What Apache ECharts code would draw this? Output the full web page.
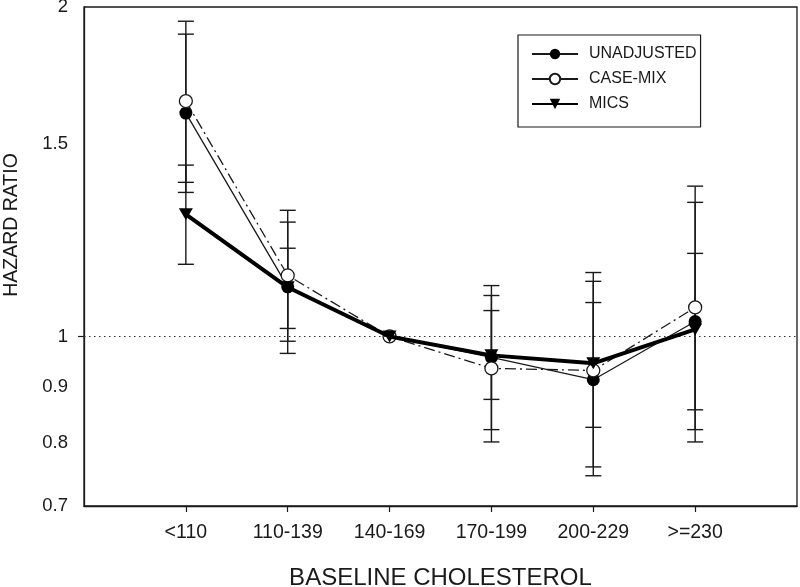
<!DOCTYPE html>
<html>
<head>
<meta charset="utf-8">
<script src="https://cdn.jsdelivr.net/npm/echarts@6/dist/echarts.min.js"></script>
<style>
html,body{margin:0;padding:0;background:#fff;}
#chart{width:800px;height:587px;}
</style>
</head>
<body>
<div id="chart"></div>
<script>
const categories = ['<110', '110-139', '140-169', '170-199', '200-229', '>=230'];
const yTicks = [0.7, 0.8, 0.9, 1, 1.5, 2];

const unadjusted     = [1.60, 1.11, 1.00, 0.957, 0.913, 1.032];
const unadjustedLow  = [1.354, 0.965, null, 0.822, 0.746, 0.801];
const unadjustedHigh = [1.889, 1.272, null, 1.113, 1.123, 1.326];

const caseMix     = [1.641, 1.137, 1.00, 0.935, 0.931, 1.063];
const caseMixLow  = [1.383, 0.990, null, 0.801, 0.760, 0.822];
const caseMixHigh = [1.941, 1.304, null, 1.090, 1.144, 1.372];

const mics     = [1.293, 1.109, 1.00, 0.961, 0.945, 1.015];
const micsLow  = [1.164, 1.017, null, 0.876, 0.826, 0.857];
const micsHigh = [1.434, 1.204, null, 1.056, 1.074, 1.191];

const FONT = '"Liberation Sans", Arial, sans-serif';
const INK = '#1a1a1a';

function points(vals) { return vals.map((v, i) => [i + 1, v]); }
function bars(lo, hi) {
  const out = [];
  lo.forEach((l, i) => { if (l != null && hi[i] != null) out.push([i + 1, l, hi[i]]); });
  return out;
}
function errorBarSeries(name, lo, hi) {
  return {
    type: 'custom',
    name: name + ' CI',
    data: bars(lo, hi),
    silent: true,
    z: 1,
    renderItem: function (params, api) {
      const x = api.value(0);
      const pLo = api.coord([x, api.value(1)]);
      const pHi = api.coord([x, api.value(2)]);
      const w = 8;
      const st = { stroke: INK, lineWidth: 1.4 };
      return {
        type: 'group',
        children: [
          { type: 'line', shape: { x1: pLo[0], y1: pLo[1], x2: pHi[0], y2: pHi[1] }, style: st },
          { type: 'line', shape: { x1: pLo[0] - w, y1: pLo[1], x2: pLo[0] + w, y2: pLo[1] }, style: st },
          { type: 'line', shape: { x1: pHi[0] - w, y1: pHi[1], x2: pHi[0] + w, y2: pHi[1] }, style: st }
        ]
      };
    }
  };
}

const chart = echarts.init(document.getElementById('chart'), null, { renderer: 'canvas' });
chart.setOption({
  animation: false,
  backgroundColor: '#fff',
  textStyle: { fontFamily: FONT },
  grid: { left: 84, right: 3, top: 7, bottom: 81, show: true, borderColor: INK, borderWidth: 1.3, outerBoundsMode: 'none', containLabel: false },
  legend: {
    orient: 'vertical',
    left: 518, top: 35,
    padding: [11, 4, 15, 13],
    itemWidth: 46, itemHeight: 13, itemGap: 9,
    borderColor: INK, borderWidth: 1.2,
    textStyle: { fontFamily: FONT, fontSize: 16, color: INK, padding: [0, 0, 0, 6] },
    data: [
      { name: 'UNADJUSTED' },
      { name: 'CASE-MIX', lineStyle: { type: 'solid' } },
      { name: 'MICS' }
    ]
  },
  graphic: [{
    type: 'text',
    x: 12, y: 225,
    rotation: Math.PI / 2,
    style: { text: 'HAZARD RATIO', font: '19.5px ' + FONT, fill: INK, align: 'center', verticalAlign: 'middle' }
  }],
  xAxis: {
    type: 'value', min: 0, max: 7,
    name: 'BASELINE CHOLESTEROL', nameLocation: 'middle', nameGap: 60,
    nameTextStyle: { fontFamily: FONT, fontSize: 24, color: INK },
    axisLine: { show: true, lineStyle: { color: INK, width: 1.3 } },
    axisTick: { show: true, customValues: [1, 2, 3, 4, 5, 6], length: 6, lineStyle: { color: INK, width: 1.2 } },
    axisLabel: { customValues: [1, 2, 3, 4, 5, 6], formatter: v => categories[Math.round(v) - 1], fontFamily: FONT, fontSize: 19.5, color: INK, margin: 17 },
    splitLine: { show: false }
  },
  yAxis: {
    type: 'log', min: 0.7, max: 2, logBase: 10,
    axisLine: { show: true, lineStyle: { color: INK, width: 1.3 } },
    axisTick: { show: true, customValues: [1], length: 6, lineStyle: { color: INK, width: 1.2 } },
    axisLabel: { customValues: yTicks, formatter: v => String(+v.toFixed(2)), fontFamily: FONT, fontSize: 18.5, color: INK, margin: 16 },
    splitLine: { show: false }
  },
  series: [
    errorBarSeries('UNADJUSTED', unadjustedLow, unadjustedHigh),
    errorBarSeries('CASE-MIX', caseMixLow, caseMixHigh),
    errorBarSeries('MICS', micsLow, micsHigh),
    {
      type: 'line', name: 'UNADJUSTED', data: points(unadjusted), z: 3,
      symbol: 'circle', symbolSize: 13,
      itemStyle: { color: '#000' },
      lineStyle: { color: INK, width: 1.3 },
      markLine: {
        silent: true, symbol: 'none', label: { show: false },
        lineStyle: { color: '#333', width: 1.2, type: [1.5, 3.5] },
        data: [{ yAxis: 1 }]
      }
    },
    {
      type: 'line', name: 'CASE-MIX', data: points(caseMix), z: 4,
      symbol: 'circle', symbolSize: 13,
      itemStyle: { color: '#fff', borderColor: INK, borderWidth: 1.3 },
      lineStyle: { color: INK, width: 1.3, type: [11, 4, 2, 4] }
    },
    {
      type: 'line', name: 'MICS', data: points(mics), z: 5,
      symbol: 'triangle', symbolSize: [14, 12], symbolRotate: 180,
      itemStyle: { color: '#000' },
      lineStyle: { color: '#000', width: 4 }
    }
  ]
});
</script>
</body>
</html>
